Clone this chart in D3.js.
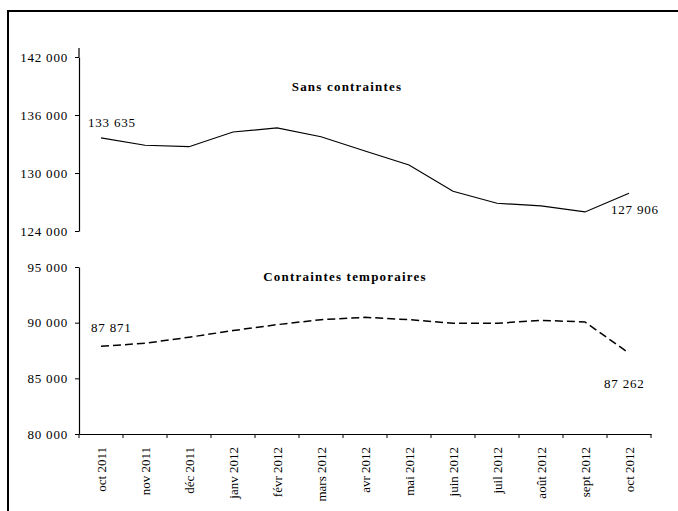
<!DOCTYPE html>
<html>
<head>
<meta charset="utf-8">
<script src="https://cdn.jsdelivr.net/npm/d3@7"></script>
<style>
  body { margin: 0; background: #fff; }
  text { font-family: "Liberation Serif", "Times New Roman", serif; fill: #000; }
</style>
</head>
<body>
<div id="vis"></div>
<script>
// Data
let months = ['oct 2011', 'nov 2011', 'déc 2011', 'janv 2012', 'févr 2012', 'mars 2012',
              'avr 2012', 'mai 2012', 'juin 2012', 'juil 2012', 'août 2012', 'sept 2012', 'oct 2012'];
let sansContraintes = [133635, 132870, 132720, 134240, 134660, 133750, 132280, 130830,
                       128110, 126870, 126590, 125970, 127906];
let contraintesTemp = [87871, 88150, 88690, 89290, 89820, 90270, 90480, 90270,
                       89940, 89940, 90210, 90060, 87262];
let topTicks = [124000, 130000, 136000, 142000];
let bottomTicks = [80000, 85000, 90000, 95000];

let width = 678,
    height = 511;

let svg = d3.select('#vis')
            .append('svg')
            .attr('width', width)
            .attr('height', height);

// Outer frame (runs off the right and bottom edges)
svg.append('rect')
    .attr('x', 8)
    .attr('y', 11)
    .attr('width', 700)
    .attr('height', 540)
    .attr('fill', 'none')
    .attr('stroke', '#000')
    .attr('stroke-width', 2);

let fmt = v => d3.format(',')(v).replace(',', ' ');

// Scales
let xScale = d3.scaleBand()
    .domain(months)
    .range([79, 651]);

let yTop = d3.scaleLinear()
    .domain([124000, 142000])
    .range([231, 57]);

let yBottom = d3.scaleLinear()
    .domain([80000, 95000])
    .range([434, 267]);

let cx = d => xScale(d) + xScale.bandwidth() / 2;

function styleAxis(g) {
  g.select('.domain').attr('stroke', '#000').attr('stroke-width', 1.2);
  g.selectAll('.tick line').attr('stroke', '#000').attr('stroke-width', 1);
  g.selectAll('text')
      .style('font-family', '"Liberation Serif", serif')
      .style('font-size', '13px')
      .style('letter-spacing', '0.8px')
      .attr('fill', '#000');
}

// Top y axis
let topAxis = svg.append('g')
    .attr('transform', 'translate(79, 0)')
    .call(d3.axisLeft(yTop).tickValues(topTicks).tickFormat(fmt).tickSize(4).tickSizeOuter(0).tickPadding(7))
    .call(styleAxis);
// axis line runs a little past the top tick
topAxis.append('line')
    .attr('x1', 0).attr('x2', 0)
    .attr('y1', yTop(142000)).attr('y2', 48)
    .attr('stroke', '#000').attr('stroke-width', 1.2);

// Bottom y axis
svg.append('g')
    .attr('transform', 'translate(79, 0)')
    .call(d3.axisLeft(yBottom).tickValues(bottomTicks).tickFormat(fmt).tickSize(4).tickSizeOuter(0).tickPadding(7))
    .call(styleAxis);

// X axis (labels at band centres, tick marks at band edges)
let xAxis = svg.append('g')
    .attr('transform', `translate(0, ${yBottom(80000)})`)
    .call(d3.axisBottom(xScale).tickSize(0).tickSizeOuter(0).tickPadding(0))
    .call(styleAxis);

xAxis.selectAll('.tick text')
    .attr('transform', 'rotate(-90)')
    .attr('x', -13)
    .attr('y', 0)
    .attr('dy', '0.35em')
    .style('text-anchor', 'end')
    .style('letter-spacing', '0px');

xAxis.selectAll('.edge')
    .data(months.map(m => xScale(m)).concat([xScale.range()[1]]))
    .enter()
    .append('line')
    .attr('x1', d => d).attr('x2', d => d)
    .attr('y1', 0).attr('y2', 4)
    .attr('stroke', '#000');

// Lines
let lineTop = d3.line()
    .x((d, i) => cx(months[i]))
    .y(d => yTop(d));

let lineBottom = d3.line()
    .x((d, i) => cx(months[i]))
    .y(d => yBottom(d));

svg.append('path')
    .datum(sansContraintes)
    .attr('d', lineTop)
    .attr('fill', 'none')
    .attr('stroke', '#000')
    .attr('stroke-width', 1.2);

svg.append('path')
    .datum(contraintesTemp)
    .attr('d', lineBottom)
    .attr('fill', 'none')
    .attr('stroke', '#000')
    .attr('stroke-width', 1.5)
    .attr('stroke-dasharray', '8,4');

// Titles
function addText(x, y, txt, bold, anchor) {
  svg.append('text')
      .attr('x', x)
      .attr('y', y)
      .text(txt)
      .style('text-anchor', anchor || 'start')
      .style('font-size', '13px')
      .style('font-weight', bold ? 'bold' : 'normal')
      .style('letter-spacing', bold ? '1.2px' : '0.8px');
}

addText(347, 91, 'Sans contraintes', true, 'middle');
addText(345, 281, 'Contraintes temporaires', true, 'middle');

// Value labels on the first and last points
let last = months.length - 1;
addText(88, 127, fmt(sansContraintes[0]));
addText(611, 214, fmt(sansContraintes[last]));
addText(91, 332, fmt(contraintesTemp[0]));
addText(604, 388, fmt(contraintesTemp[last]));
</script>
</body>
</html>
